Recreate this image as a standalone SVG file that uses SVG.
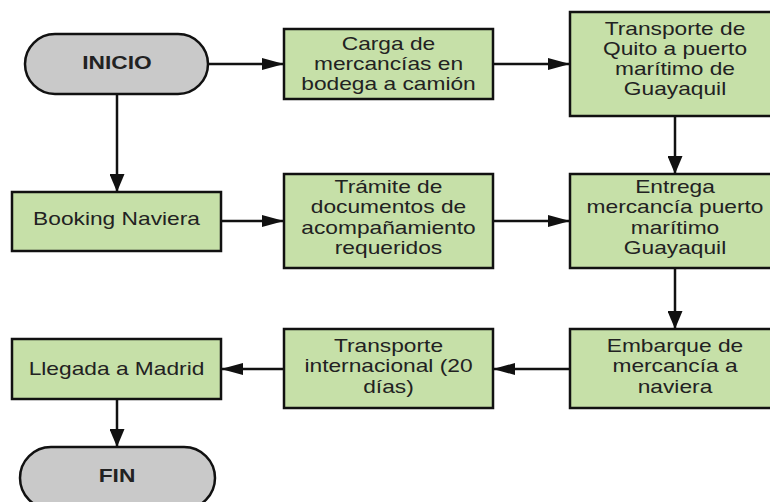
<svg xmlns="http://www.w3.org/2000/svg" width="770" height="502" viewBox="0 0 770 502">
<defs>
<style>
.box{fill:#c6e0a8;stroke:#111;stroke-width:2.5}
.term{fill:#c9c9c9;stroke:#111;stroke-width:2.5}
.t{font-family:"Liberation Sans",Arial,sans-serif;font-size:17.5px;fill:#222;text-anchor:middle}
.b{font-weight:bold}
.c{fill:none;stroke:#111;stroke-width:2.5}
</style>
<marker id="ah" markerUnits="userSpaceOnUse" markerWidth="22" markerHeight="12" refX="22" refY="6" orient="auto"><path d="M0,0 L22,6 L0,12 Z" fill="#111"/></marker>
<marker id="av" markerUnits="userSpaceOnUse" markerWidth="18" markerHeight="15" refX="18" refY="7.5" orient="auto"><path d="M0,0 L18,7.5 L0,15 Z" fill="#111"/></marker>
</defs>
<rect width="770" height="502" fill="#fff"/>
<g id="connectors">
<path class="c" d="M208,64 H284" marker-end="url(#ah)"/>
<path class="c" d="M493,64 H570" marker-end="url(#ah)"/>
<path class="c" d="M117,94 V192" marker-end="url(#av)"/>
<path class="c" d="M675,116 V174" marker-end="url(#av)"/>
<path class="c" d="M221,221 H284" marker-end="url(#ah)"/>
<path class="c" d="M493,221 H570" marker-end="url(#ah)"/>
<path class="c" d="M675,268 V329" marker-end="url(#av)"/>
<path class="c" d="M570,369 H493" marker-end="url(#ah)"/>
<path class="c" d="M284,369 H221" marker-end="url(#ah)"/>
<path class="c" d="M117,399 V447" marker-end="url(#av)"/>
</g>
<g id="inicio">
<rect class="term" x="25" y="34" width="183" height="60" rx="30" ry="30"/>
<text class="t b" transform="matrix(1.3 0 0 1 117 0)"><tspan x="0" y="69">INICIO</tspan></text>
</g>
<g id="carga">
<rect class="box" x="284" y="29" width="209" height="70"/>
<text class="t" transform="matrix(1.3 0 0 1 388.5 0)"><tspan x="0" y="50">Carga de</tspan><tspan x="0" y="70">mercancías en</tspan><tspan x="0" y="90">bodega a camión</tspan></text>
</g>
<g id="transporte-quito">
<rect class="box" x="570" y="12" width="212" height="104"/>
<text class="t" transform="matrix(1.3 0 0 1 675 0)"><tspan x="0" y="35">Transporte de</tspan><tspan x="0" y="55">Quito a puerto</tspan><tspan x="0" y="75">marítimo de</tspan><tspan x="0" y="95">Guayaquil</tspan></text>
</g>
<g id="booking">
<rect class="box" x="12" y="192" width="209" height="59"/>
<text class="t" transform="matrix(1.3 0 0 1 116.5 0)"><tspan x="0" y="225.5">Booking Naviera</tspan></text>
</g>
<g id="tramite">
<rect class="box" x="284" y="174" width="209" height="94"/>
<text class="t" transform="matrix(1.3 0 0 1 388.5 0)"><tspan x="0" y="193">Trámite de</tspan><tspan x="0" y="213.5">documentos de</tspan><tspan x="0" y="234">acompañamiento</tspan><tspan x="0" y="254.5">requeridos</tspan></text>
</g>
<g id="entrega">
<rect class="box" x="570" y="174" width="212" height="94"/>
<text class="t" transform="matrix(1.3 0 0 1 675 0)"><tspan x="0" y="193">Entrega</tspan><tspan x="0" y="213.5">mercancía puerto</tspan><tspan x="0" y="234">marítimo</tspan><tspan x="0" y="254.5">Guayaquil</tspan></text>
</g>
<g id="embarque">
<rect class="box" x="570" y="329" width="212" height="79"/>
<text class="t" transform="matrix(1.3 0 0 1 675 0)"><tspan x="0" y="352">Embarque de</tspan><tspan x="0" y="372.5">mercancía a</tspan><tspan x="0" y="393">naviera</tspan></text>
</g>
<g id="transporte-internacional">
<rect class="box" x="284" y="329" width="209" height="79"/>
<text class="t" transform="matrix(1.3 0 0 1 388.5 0)"><tspan x="0" y="352">Transporte</tspan><tspan x="0" y="372.5">internacional (20</tspan><tspan x="0" y="393">días)</tspan></text>
</g>
<g id="llegada">
<rect class="box" x="12" y="339" width="209" height="60"/>
<text class="t" transform="matrix(1.3 0 0 1 116.5 0)"><tspan x="0" y="375">Llegada a Madrid</tspan></text>
</g>
<g id="fin">
<rect class="term" x="20" y="447" width="195" height="62" rx="31" ry="31"/>
<text class="t b" transform="matrix(1.3 0 0 1 117 0)"><tspan x="0" y="482">FIN</tspan></text>
</g>
</svg>
